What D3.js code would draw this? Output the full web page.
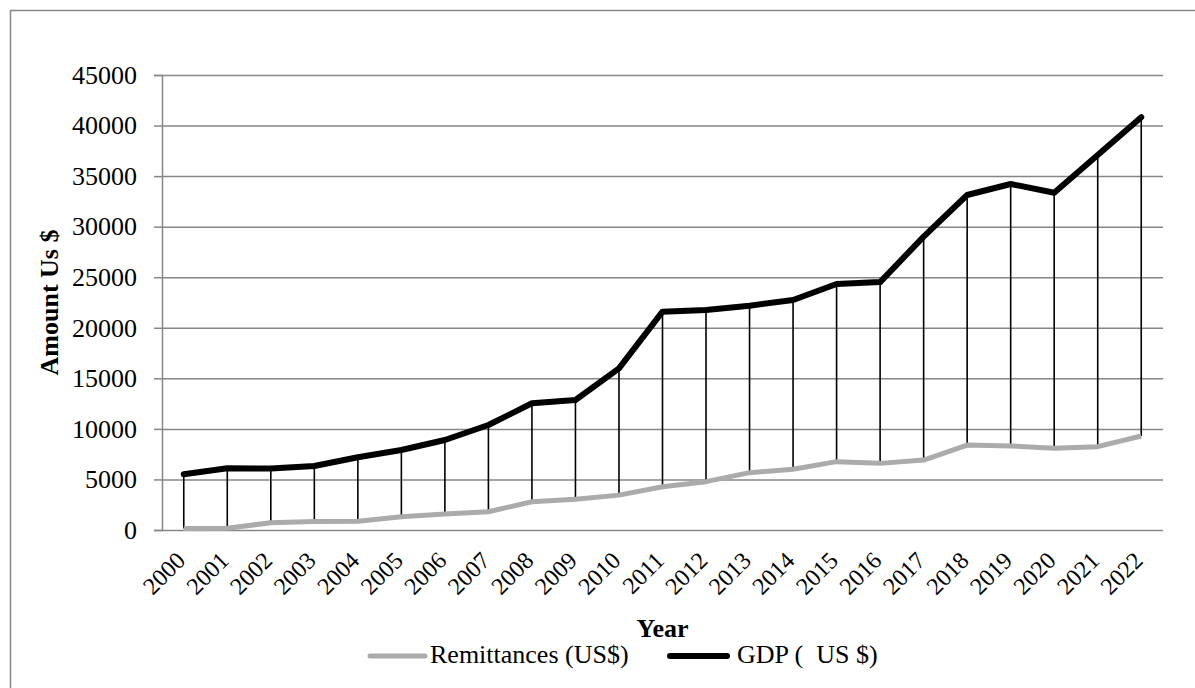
<!DOCTYPE html>
<html><head><meta charset="utf-8">
<script src="https://cdn.jsdelivr.net/npm/d3@7"></script>
<style>body{margin:0;background:#fff}svg{display:block}text{font-family:"Liberation Serif","Times New Roman",serif;fill:#000}</style>
</head><body>
<svg id="chart" width="1195" height="688"></svg>
<script>
const years = ["2000","2001","2002","2003","2004","2005","2006","2007","2008","2009","2010","2011","2012","2013","2014","2015","2016","2017","2018","2019","2020","2021","2022"];
const remittances = [150,170,720,850,870,1320,1580,1810,2800,3030,3450,4280,4780,5670,6000,6760,6590,6920,8400,8310,8080,8240,9300];
const gdp = [5510,6100,6080,6330,7190,7910,8900,10385,12530,12860,15990,21590,21760,22180,22750,24330,24520,29010,33130,34220,33360,37090,40820];
const yTicks = [0,5000,10000,15000,20000,25000,30000,35000,40000,45000];

const svg = d3.select("#chart");
const L = 162, R = 1163, T = 75, B = 530;
const x = d3.scaleBand().domain(years).range([L, R]);
const y = d3.scaleLinear().domain([0, 45000]).range([B, T]);
const cx = d => x(d) + x.bandwidth() / 2;

svg.append("rect").attr("x", 10.5).attr("y", 10.5).attr("width", 1200).attr("height", 700)
  .attr("fill", "none").attr("stroke", "#868686").attr("stroke-width", 1.5);

// gridlines + y axis
const yAxis = d3.axisLeft(y).tickValues(yTicks).tickSize(8).tickPadding(17).tickFormat(d3.format("d"));
const gy = svg.append("g").attr("transform", `translate(${L},0)`).call(yAxis);
gy.attr("font-family", "Liberation Serif");
gy.select(".domain").attr("stroke", "#868686").attr("stroke-width", 1.5);
gy.selectAll(".tick line").attr("stroke", "#868686").attr("stroke-width", 1.5);
gy.selectAll(".tick text").attr("font-size", 26).attr("fill", "#000");
gy.selectAll(".tick").append("line").attr("x1", 0).attr("x2", R - L)
  .attr("stroke", "#868686").attr("stroke-width", 1.5);

// x labels
svg.append("g").selectAll("text").data(years).join("text")
  .attr("transform", d => `translate(${cx(d) + 3},${B + 32}) rotate(-45)`)
  .attr("text-anchor", "end").attr("font-size", 24).text(d => d);

// high-low lines
svg.append("g").selectAll("line").data(years).join("line")
  .attr("x1", d => cx(d)).attr("x2", d => cx(d))
  .attr("y1", (d, i) => y(gdp[i])).attr("y2", (d, i) => y(remittances[i]))
  .attr("stroke", "#000").attr("stroke-width", 1.6);

const line = d3.line().x((d, i) => cx(years[i])).y(d => y(d));
svg.append("path").datum(remittances).attr("d", line).attr("fill", "none")
  .attr("stroke", "#ababab").attr("stroke-width", 5).attr("stroke-linejoin", "round");
svg.append("path").datum(gdp).attr("d", line).attr("fill", "none")
  .attr("stroke", "#000").attr("stroke-width", 6).attr("stroke-linejoin", "round").attr("stroke-linecap", "round");

// axis titles
svg.append("text").attr("transform", `translate(58,${(T + B) / 2}) rotate(-90)`)
  .attr("text-anchor", "middle").attr("font-size", 26).attr("font-weight", "bold").text("Amount Us $");
svg.append("text").attr("x", (L + R) / 2).attr("y", 637).attr("text-anchor", "middle")
  .attr("font-size", 26).attr("font-weight", "bold").text("Year");

// legend
const leg = svg.append("g");
leg.append("line").attr("x1", 370).attr("x2", 425).attr("y1", 656).attr("y2", 656)
  .attr("stroke", "#ababab").attr("stroke-width", 5).attr("stroke-linecap", "round");
leg.append("text").attr("x", 430).attr("y", 663).attr("font-size", 26).text("Remittances (US$)");
leg.append("line").attr("x1", 670).attr("x2", 727).attr("y1", 656).attr("y2", 656)
  .attr("stroke", "#000").attr("stroke-width", 6).attr("stroke-linecap", "round");
leg.append("text").attr("x", 737).attr("y", 663).attr("font-size", 26).attr("xml:space", "preserve").style("white-space", "pre").text("GDP (  US $)");
</script>
</body></html>
